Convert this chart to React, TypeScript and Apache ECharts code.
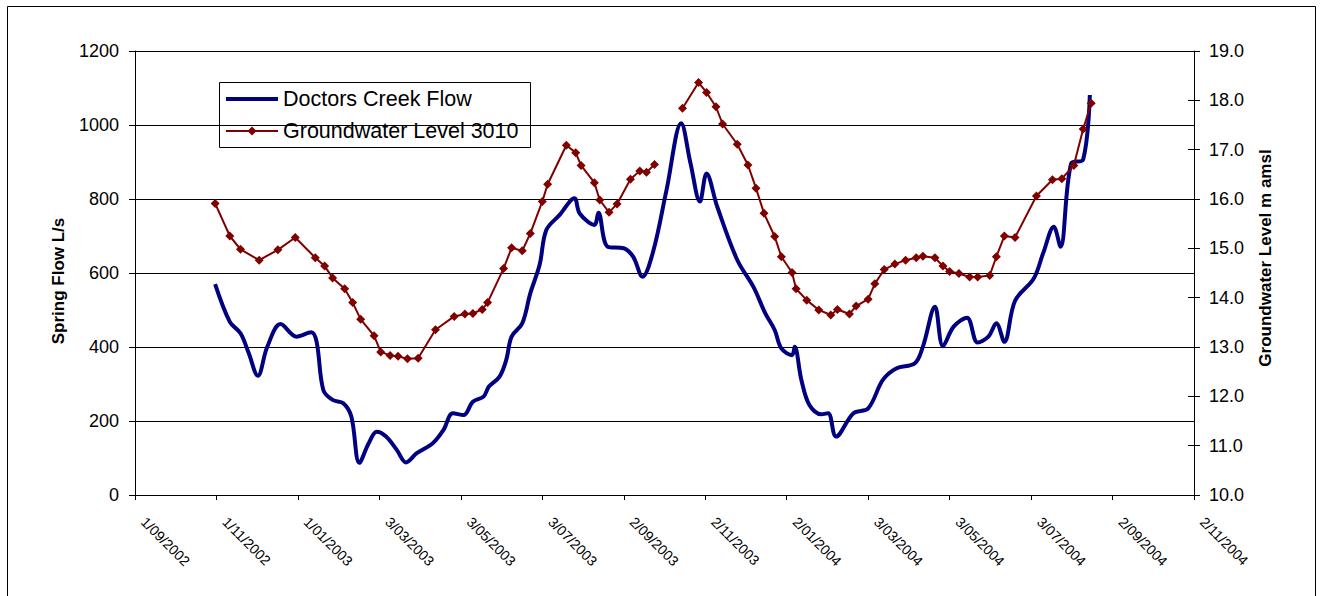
import { useEffect, useRef } from "react";
import * as echarts from "echarts";

// Day 0 of the date axis is 1 September 2002; ticks fall every 61 days.
const START = Date.UTC(2002, 8, 1);
const DAY = 86400000;
const X_STEP = 61;
const X_MAX = 793;
const toDay = (iso: string) => Math.round((Date.parse(iso) - START) / DAY);

const FONT = '"Liberation Sans", Arial, Helvetica, sans-serif';
const FLOW_COLOR = "#000080";
const GW_COLOR = "#800000";

// Doctors Creek flow, L/s
const flowDates = [
  "2002-10-31", "2002-11-11", "2002-11-19", "2002-11-25", "2002-12-02", "2002-12-09",
  "2002-12-19", "2002-12-31", "2003-01-11", "2003-01-15", "2003-01-20", "2003-01-27",
  "2003-02-04", "2003-02-10", "2003-02-16", "2003-02-23", "2003-03-01", "2003-03-08",
  "2003-03-16", "2003-03-23", "2003-03-31", "2003-04-12", "2003-04-20", "2003-04-27",
  "2003-05-05", "2003-05-12", "2003-05-20", "2003-05-24", "2003-06-01", "2003-06-06",
  "2003-06-10", "2003-06-18", "2003-06-24", "2003-07-01", "2003-07-06", "2003-07-16",
  "2003-07-27", "2003-07-31", "2003-08-11", "2003-08-14", "2003-08-21", "2003-09-02",
  "2003-09-09", "2003-09-16", "2003-09-24", "2003-10-04", "2003-10-15", "2003-10-22",
  "2003-10-29", "2003-11-03", "2003-11-11", "2003-11-26", "2003-12-08", "2003-12-17",
  "2003-12-24", "2003-12-29", "2004-01-06", "2004-01-08", "2004-01-13", "2004-01-19",
  "2004-01-28", "2004-02-02", "2004-02-08", "2004-02-21", "2004-03-03", "2004-03-14",
  "2004-03-24", "2004-04-07", "2004-04-13", "2004-04-22", "2004-04-28", "2004-05-06",
  "2004-05-16", "2004-05-24", "2004-06-01", "2004-06-07", "2004-06-13", "2004-06-21",
  "2004-07-05", "2004-07-12", "2004-07-20", "2004-07-25", "2004-08-02", "2004-08-11",
  "2004-08-16",
];
const flowValues = [
  570, 468, 437, 385, 322, 400,
  462, 428, 440, 414, 284, 257,
  248, 212, 87, 140, 171, 158,
  122, 88, 113, 140, 176, 221,
  216, 252, 266, 293, 320, 365,
  428, 464, 545, 622, 716, 757,
  802, 761, 730, 763, 671, 667,
  644, 590, 658, 824, 1005, 896,
  793, 869, 779, 635, 563, 491,
  446, 396, 378, 401, 311, 243,
  218, 221, 158, 221, 234, 311,
  342, 356, 401, 509, 402, 455,
  479, 412, 428, 464, 414, 525,
  585, 653, 725, 671, 896, 907,
  1081,
];

// Groundwater level at bore 3010, m amsl (null = no reading, line breaks)
const gwDates = [
  "2002-10-31", "2002-11-11", "2002-11-19", "2002-12-03", "2002-12-17", "2002-12-30",
  "2003-01-14", "2003-01-21", "2003-01-27", "2003-02-05", "2003-02-11", "2003-02-17",
  "2003-02-27", "2003-03-04", "2003-03-11", "2003-03-17", "2003-03-24", "2003-04-01",
  "2003-04-14", "2003-04-28", "2003-05-06", "2003-05-12", "2003-05-19", "2003-05-23",
  "2003-06-04", "2003-06-10", "2003-06-18", "2003-06-24", "2003-07-03", "2003-07-07",
  "2003-07-21", "2003-07-28", "2003-08-01", "2003-08-11", "2003-08-15", "2003-08-22",
  "2003-08-28", "2003-09-07", "2003-09-14", "2003-09-19", "2003-09-25", "2003-10-05",
  "2003-10-16", "2003-10-28", "2003-11-03", "2003-11-10", "2003-11-15", "2003-11-26",
  "2003-12-04", "2003-12-10", "2003-12-16", "2003-12-24", "2003-12-29", "2004-01-06",
  "2004-01-09", "2004-01-17", "2004-01-26", "2004-02-04", "2004-02-09", "2004-02-18",
  "2004-02-23", "2004-03-03", "2004-03-08", "2004-03-15", "2004-03-23", "2004-03-31",
  "2004-04-08", "2004-04-13", "2004-04-22", "2004-04-28", "2004-05-03", "2004-05-10",
  "2004-05-18", "2004-05-24", "2004-06-02", "2004-06-07", "2004-06-13", "2004-06-21",
  "2004-07-07", "2004-07-19", "2004-07-26", "2004-08-04", "2004-08-11", "2004-08-17",
];
const gwLevels: (number | null)[] = [
  15.91, 15.25, 14.98, 14.76, 14.97, 15.22,
  14.81, 14.64, 14.4, 14.18, 13.9, 13.56,
  13.23, 12.9, 12.83, 12.81, 12.76, 12.77,
  13.35, 13.62, 13.67, 13.68, 13.76, 13.9,
  14.59, 15.01, 14.95, 15.3, 15.95, 16.3,
  17.09, 16.94, 16.68, 16.33, 15.98, 15.73,
  15.9, 16.4, 16.57, 16.54, 16.7, null,
  17.84, 18.36, 18.16, 17.87, 17.52, 17.11,
  16.69, 16.22, 15.71, 15.24, 14.83, 14.51,
  14.18, 13.95, 13.75, 13.65, 13.76, 13.67,
  13.83, 13.97, 14.28, 14.57, 14.68, 14.76,
  14.81, 14.84, 14.81, 14.64, 14.53, 14.49,
  14.42, 14.42, 14.45, 14.83, 15.25, 15.22,
  16.06, 16.39, 16.41, 16.68, 17.42, 17.94,
];

const flowName = "Doctors Creek Flow";
const gwName = "Groundwater Level 3010";

const formatDate = (v: number) => {
  const d = new Date(START + v * DAY);
  const mm = String(d.getUTCMonth() + 1).padStart(2, "0");
  return `${d.getUTCDate()}/${mm}/${d.getUTCFullYear()}`;
};

export default function App() {
  const ref = useRef<HTMLDivElement>(null);

  useEffect(() => {
    if (!ref.current) return;
    const chart = echarts.init(ref.current, null, { renderer: "svg" });

    const flowData = flowDates.map((d, i) => [toDay(d), flowValues[i]]);
    const gwData = gwDates.map((d, i) => [toDay(d), gwLevels[i]]);

    // Boxed key in the upper-left of the plot
    const key = {
      type: "group",
      left: 219,
      top: 82,
      z: 10,
      children: [
        {
          type: "rect",
          shape: { x: 0.5, y: 0.5, width: 311, height: 65 },
          style: { fill: "#fff", stroke: "#000", lineWidth: 1 },
        },
        {
          type: "line",
          shape: { x1: 7, y1: 17, x2: 59, y2: 17 },
          style: { stroke: FLOW_COLOR, lineWidth: 4 },
        },
        {
          type: "text",
          x: 64,
          y: 17,
          style: {
            text: flowName,
            font: `21.5px ${FONT}`,
            fill: "#000",
            align: "left",
            verticalAlign: "middle",
          },
        },
        {
          type: "line",
          shape: { x1: 7, y1: 49, x2: 59, y2: 49 },
          style: { stroke: GW_COLOR, lineWidth: 2 },
        },
        {
          type: "polygon",
          shape: { points: [[33, 44.5], [37.5, 49], [33, 53.5], [28.5, 49]] },
          style: { fill: GW_COLOR },
        },
        {
          type: "text",
          x: 64,
          y: 49,
          style: {
            text: gwName,
            font: `21.5px ${FONT}`,
            fill: "#000",
            align: "left",
            verticalAlign: "middle",
          },
        },
      ],
    };

    chart.setOption({
      animation: false,
      backgroundColor: "#ffffff",
      textStyle: { fontFamily: FONT, color: "#000" },
      grid: { left: 135, top: 51, width: 1059, height: 444, containLabel: false },
      xAxis: {
        type: "value",
        min: 0,
        max: X_MAX,
        interval: X_STEP,
        axisLine: { show: true, lineStyle: { color: "#000", width: 1 } },
        axisTick: { show: true, length: 5, inside: false, lineStyle: { color: "#000" } },
        splitLine: { show: false },
        axisLabel: {
          rotate: -45,
          margin: 16,
          padding: [0, 0, 0, 12],
          fontSize: 14,
          color: "#000",
          fontFamily: FONT,
          showMinLabel: true,
          showMaxLabel: true,
          formatter: formatDate,
        },
      },
      yAxis: [
        {
          type: "value",
          position: "left",
          min: 0,
          max: 1200,
          interval: 200,
          axisLine: { show: true, lineStyle: { color: "#000", width: 1 } },
          axisTick: { show: true, length: 6, lineStyle: { color: "#000" } },
          splitLine: { show: true, lineStyle: { color: "#000", width: 1 } },
          axisLabel: {
            fontSize: 18,
            margin: 16,
            color: "#000",
            fontFamily: FONT,
            formatter: (v: number) => String(v),
          },
        },
        {
          type: "value",
          position: "right",
          min: 10,
          max: 19,
          interval: 1,
          axisLine: { show: true, lineStyle: { color: "#000", width: 1 } },
          axisTick: { show: true, length: 6, lineStyle: { color: "#000" } },
          splitLine: { show: false },
          axisLabel: {
            fontSize: 18,
            margin: 15,
            color: "#000",
            fontFamily: FONT,
            formatter: (v: number) => v.toFixed(1),
          },
        },
        {
          // inner half of the crossing ticks on the right-hand axis
          type: "value",
          position: "right",
          min: 10,
          max: 19,
          interval: 1,
          axisLine: { show: false },
          axisTick: { show: true, inside: true, length: 6, lineStyle: { color: "#000" } },
          splitLine: { show: false },
          axisLabel: { show: false },
        },
      ],
      series: [
        {
          name: flowName,
          type: "line",
          yAxisIndex: 0,
          data: flowData,
          symbol: "none",
          showSymbol: false,
          smooth: 0.35,
          lineStyle: { color: FLOW_COLOR, width: 4 },
          itemStyle: { color: FLOW_COLOR },
          z: 2,
        },
        {
          name: gwName,
          type: "line",
          yAxisIndex: 1,
          data: gwData,
          connectNulls: false,
          symbol: "diamond",
          symbolSize: 9,
          lineStyle: { color: GW_COLOR, width: 2 },
          itemStyle: { color: GW_COLOR },
          z: 3,
        },
      ],
      graphic: [
        {
          type: "rect",
          silent: true,
          shape: { x: 7.5, y: 6.5, width: 1308, height: 600 },
          style: { fill: "none", stroke: "#000", lineWidth: 1 },
          z: -1,
        },
        key,
        {
          type: "text",
          x: 58,
          y: 281,
          rotation: Math.PI / 2,
          style: {
            text: "Spring Flow L/s",
            font: `bold 17px ${FONT}`,
            fill: "#000",
            align: "center",
            verticalAlign: "middle",
          },
        },
        {
          type: "text",
          x: 1265,
          y: 258,
          rotation: Math.PI / 2,
          style: {
            text: "Groundwater Level m amsl",
            font: `bold 17px ${FONT}`,
            fill: "#000",
            align: "center",
            verticalAlign: "middle",
          },
        },
      ],
    });

    return () => chart.dispose();
  }, []);

  return (
    <div
      ref={ref}
      style={{ position: "absolute", left: 0, top: 0, width: 1326, height: 596 }}
    />
  );
}
